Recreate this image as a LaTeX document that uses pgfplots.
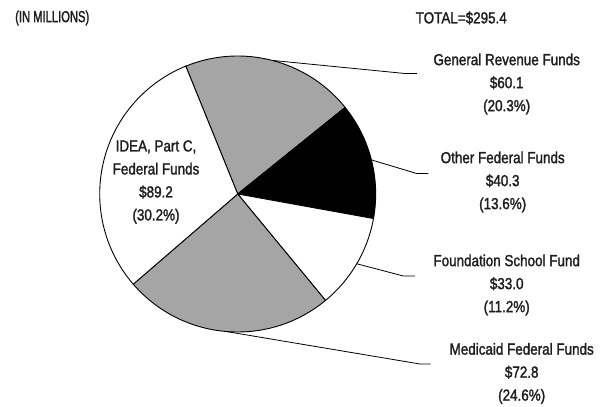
\documentclass[border=0pt]{standalone}
\usepackage{pgfplots}
\usepackage{pgfplotstable}
\pgfplotsset{compat=1.18}
\usepackage{fontspec}
\setmainfont{Liberation Sans}[FakeStretch=0.84, FakeBold=1.6]
\newfontfamily\hdrfont{Liberation Sans}[FakeStretch=0.70, FakeBold=1.6]
\definecolor{pgray}{RGB}{165,165,165}
\definecolor{txt}{RGB}{30,30,30}
\pgfplotstableread{
label value
GR 60.1
OF 40.3
FS 33.0
MF 72.8
ID 89.2
}\piedata
\tikzset{lbl/.style={font=\fontsize{16}{23}\selectfont, text=txt, inner sep=0pt, align=center}}
\begin{document}
\begin{tikzpicture}
\useasboundingbox (0,0) rectangle (608pt,407pt);
\gdef\acc{112.1}
\foreach \i/\n in {0/A,1/B,2/C,3/D,4/E}{
  \pgfplotstablegetelem{\i}{value}\of\piedata
  \pgfmathsetmacro\sweep{\pgfplotsretval/295.4*360}
  \pgfmathsetmacro\endang{\acc-\sweep}
  \pgfmathsetmacro\midang{\acc-\sweep/2}
  \expandafter\xdef\csname ps\n\endcsname{\acc}
  \expandafter\xdef\csname pe\n\endcsname{\endang}
  \expandafter\xdef\csname pm\n\endcsname{\midang}
  \xdef\acc{\endang}
}
\begin{axis}[hide axis, x=1pt, y=1pt, xmin=0, xmax=608, ymin=0, ymax=407,
  at={(0,0)}, anchor=origin, clip=false, scale only axis]
% slices
\filldraw[fill=pgray, draw=black, line width=0.9pt, line join=round] (axis cs:237.7,213) -- ++(\psA:138pt) arc[start angle=\psA, end angle=\peA, radius=138pt] -- cycle;
\filldraw[fill=black, draw=black, line width=0.9pt, line join=round] (axis cs:237.7,213) -- ++(\psB:138pt) arc[start angle=\psB, end angle=\peB, radius=138pt] -- cycle;
\filldraw[fill=white, draw=black, line width=0.9pt, line join=round] (axis cs:237.7,213) -- ++(\psC:138pt) arc[start angle=\psC, end angle=\peC, radius=138pt] -- cycle;
\filldraw[fill=pgray, draw=black, line width=0.9pt, line join=round] (axis cs:237.7,213) -- ++(\psD:138pt) arc[start angle=\psD, end angle=\peD, radius=138pt] -- cycle;
\filldraw[fill=white, draw=black, line width=0.9pt, line join=round] (axis cs:237.7,213) -- ++(\psE:138pt) arc[start angle=\psE, end angle=\peE, radius=138pt] -- cycle;
% leaders
\draw[line width=0.8pt] (axis cs:237.7,213) ++(\pmA:138pt) -- (axis cs:405,333.5) -- (axis cs:417,333.5);
\draw[line width=0.8pt] (axis cs:237.7,213) ++(\pmB:138pt) -- (axis cs:416.7,233.5) -- (axis cs:428.3,233.5);
\draw[line width=0.8pt] (axis cs:237.7,213) ++(\pmC:138pt) -- (axis cs:403.3,131) -- (axis cs:415,131);
\draw[line width=0.8pt] (axis cs:237.7,213) ++(\pmD:138pt) -- (axis cs:420,43) -- (axis cs:430.7,43);
% labels
\node[lbl] at (axis cs:506.7,323) {General Revenue Funds\\\$60.1\\(20.3\%)};
\node[lbl] at (axis cs:502.7,225) {Other Federal Funds\\\$40.3\\(13.6\%)};
\node[lbl] at (axis cs:506.7,122) {Foundation School Fund\\\$33.0\\(11.2\%)};
\node[lbl] at (axis cs:521.7,33.5) {Medicaid Federal Funds\\\$72.8\\(24.6\%)};
\node[lbl] at (axis cs:156,225) {IDEA, Part C,\\Federal Funds\\\$89.2\\(30.2\%)};
\node[lbl, anchor=west] at (axis cs:15,389) {\hdrfont (IN MILLIONS)};
\node[lbl, anchor=east] at (axis cs:507,389) {TOTAL=\$295.4};
\end{axis}
\end{tikzpicture}
\end{document}
